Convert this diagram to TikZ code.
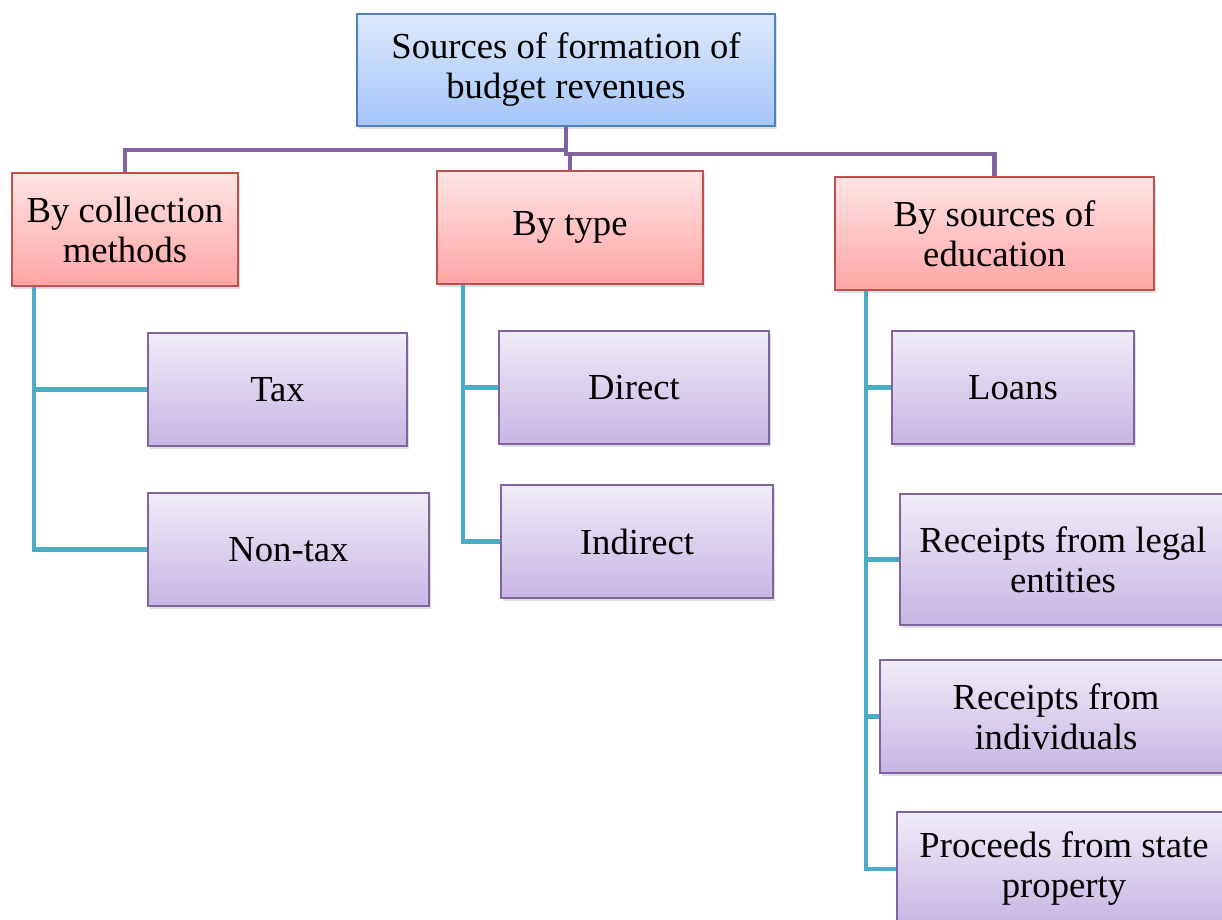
\documentclass[tikz,border=0pt]{standalone}
\usepackage{fontspec}
\setmainfont{Liberation Serif}
\usetikzlibrary{shadows}

\definecolor{rootline}{RGB}{79,129,189}
\definecolor{roottop}{RGB}{221,233,252}
\definecolor{rootbot}{RGB}{164,197,248}
\definecolor{groupline}{RGB}{192,80,77}
\definecolor{grouptop}{RGB}{255,228,228}
\definecolor{groupbot}{RGB}{255,165,165}
\definecolor{itemline}{RGB}{128,100,162}
\definecolor{itemtop}{RGB}{240,236,248}
\definecolor{itembot}{RGB}{200,181,227}
\definecolor{niceteal}{RGB}{75,172,198}

\begin{document}
\begin{tikzpicture}[x=0.75pt,y=-0.75pt,
        box/.style={rectangle,align=center,line width=1.4pt,
          font=\fontsize{27.5}{30}\selectfont,inner sep=2pt,
          drop shadow={opacity=0.25,shadow xshift=1.5pt,shadow yshift=-2.5pt}},
        rootbox/.style={box,draw=rootline,top color=roottop,bottom color=rootbot},
        groupbox/.style={box,draw=groupline,top color=grouptop,bottom color=groupbot},
        itembox/.style={box,draw=itemline,top color=itemtop,bottom color=itembot},
        trunk/.style={draw=itemline,line width=3.5pt},
        branch/.style={draw=niceteal,line width=3.5pt},
      ]
      \clip (0,0) rectangle (1222,920);
      \node[rootbox,minimum width=313.5pt,minimum height=84pt] at (566,70) (root) {Sources of formation of\\budget revenues};
%
      \node[groupbox,minimum width=169.5pt,minimum height=84.75pt] at (125,229.5) (coll) {By collection\\methods};
      \node[groupbox,minimum width=199.5pt,minimum height=84.75pt] at (570,227.5) (type) {By type};
      \node[groupbox,minimum width=239.25pt,minimum height=84.75pt] at (994.5,233.5) (src) {By sources of\\education};
%
      \node[itembox,minimum width=194.25pt,minimum height=84.75pt] at (277.5,389.5) (tax) {Tax};
      \node[itembox,minimum width=210.75pt,minimum height=84.75pt] at (288.5,549.5) (nontax) {Non-tax};
%
      \node[itembox,minimum width=202.5pt,minimum height=84.75pt] at (634,387.5) (direct) {Direct};
      \node[itembox,minimum width=204pt,minimum height=84.75pt] at (637,541.5) (indirect) {Indirect};
%
      \node[itembox,minimum width=181.5pt,minimum height=84.75pt] at (1013,387.5) (loans) {Loans};
      \node[itembox,minimum width=244.5pt,minimum height=98.25pt] at (1063,559.5) (legal) {Receipts from legal\\entities};
      \node[itembox,minimum width=264pt,minimum height=84.75pt] at (1056,716.5) (indiv) {Receipts from\\individuals};
      \node[itembox,minimum width=250.5pt,minimum height=85.5pt] at (1064,869) (state) {Proceeds from state\\property};
%
      \path[trunk] (root.south) -- ++(0,23) -| (coll.north);
      \path[trunk] (root.south) -- ++(0,27) -| (type.north);
      \path[trunk] (root.south) -- ++(0,27) -| (src.north);
%
      \path[branch] ([xshift=17.25pt]coll.south west) |- (tax.west);
      \path[branch] ([xshift=17.25pt]coll.south west) |- (nontax.west);
      \path[branch] ([xshift=20.25pt]type.south west) |- (direct.west);
      \path[branch] ([xshift=20.25pt]type.south west) |- (indirect.west);
      \path[branch] ([xshift=24pt]src.south west) |- (loans.west);
      \path[branch] ([xshift=24pt]src.south west) |- (legal.west);
      \path[branch] ([xshift=24pt]src.south west) |- (indiv.west);
      \path[branch] ([xshift=24pt]src.south west) |- (state.west);
    \end{tikzpicture}
\end{document}
